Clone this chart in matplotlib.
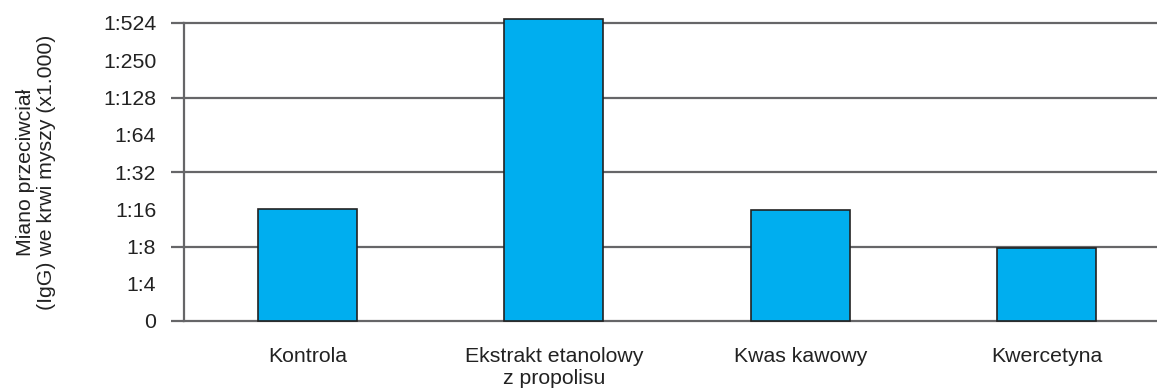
import matplotlib.pyplot as plt
import numpy as np

plt.rcParams['font.family'] = ['Liberation Sans', 'DejaVu Sans']

# grupy i miano (w jednostkach skali: 0, 1:4, 1:8, ... jako kolejne stopnie)
groups = ['Kontrola', 'Ekstrakt etanolowy\nz propolisu', 'Kwas kawowy', 'Kwercetyna']
titer_level = [3.0, 8.1, 2.97, 1.96]
scale_labels = ['0', '1:4', '1:8', '1:16', '1:32', '1:64', '1:128', '1:250', '1:524']

W, H = 1157, 389
FS = 15.3
fig = plt.figure(figsize=(W / 100, H / 100), dpi=100)
ax = fig.add_axes([184 / W, 68 / H, (W - 184) / W, (321 - 23) / H])

grid_col = '#666668'
x = np.arange(len(groups))
ax.bar(x, titer_level, width=0.4, color='#00aeef', edgecolor='#222222',
       linewidth=1.2, zorder=3, clip_on=False)

ax.set_xlim(-0.5, -0.5 + (W - 184) / 246.5)
ax.set_ylim(0, 8)

# etykiety na kazdym stopniu, linie siatki i kreski co drugi stopien
ax.yaxis.remove_overlapping_locs = False
ax.set_yticks(range(len(scale_labels)))
ax.set_yticklabels(scale_labels)
ax.set_yticks(range(0, len(scale_labels), 2), minor=True)
ax.tick_params(axis='y', which='major', length=0, pad=20, labelsize=FS,
               labelcolor='#222222')
ax.tick_params(axis='y', which='minor', length=9.4, width=1.6, color=grid_col)
ax.grid(axis='y', which='minor', color=grid_col, linewidth=1.6, zorder=1)
ax.set_axisbelow(True)
for t in ax.yaxis.get_minor_ticks():
    t.gridline.set_clip_on(False)

ax.set_xticks(x)
ax.set_xticklabels(groups, fontsize=FS, color='#222222', linespacing=1.15)
ax.tick_params(axis='x', length=0, pad=19)

for s in ['top', 'right', 'bottom']:
    ax.spines[s].set_visible(False)
ax.spines['left'].set_color(grid_col)
ax.spines['left'].set_linewidth(1.6)

ax.set_ylabel('Miano przeciwciał\n(IgG) we krwi myszy (x1.000)', fontsize=FS,
              color='#222222', labelpad=34, linespacing=1.1)

fig.savefig('out.png', dpi=100)
